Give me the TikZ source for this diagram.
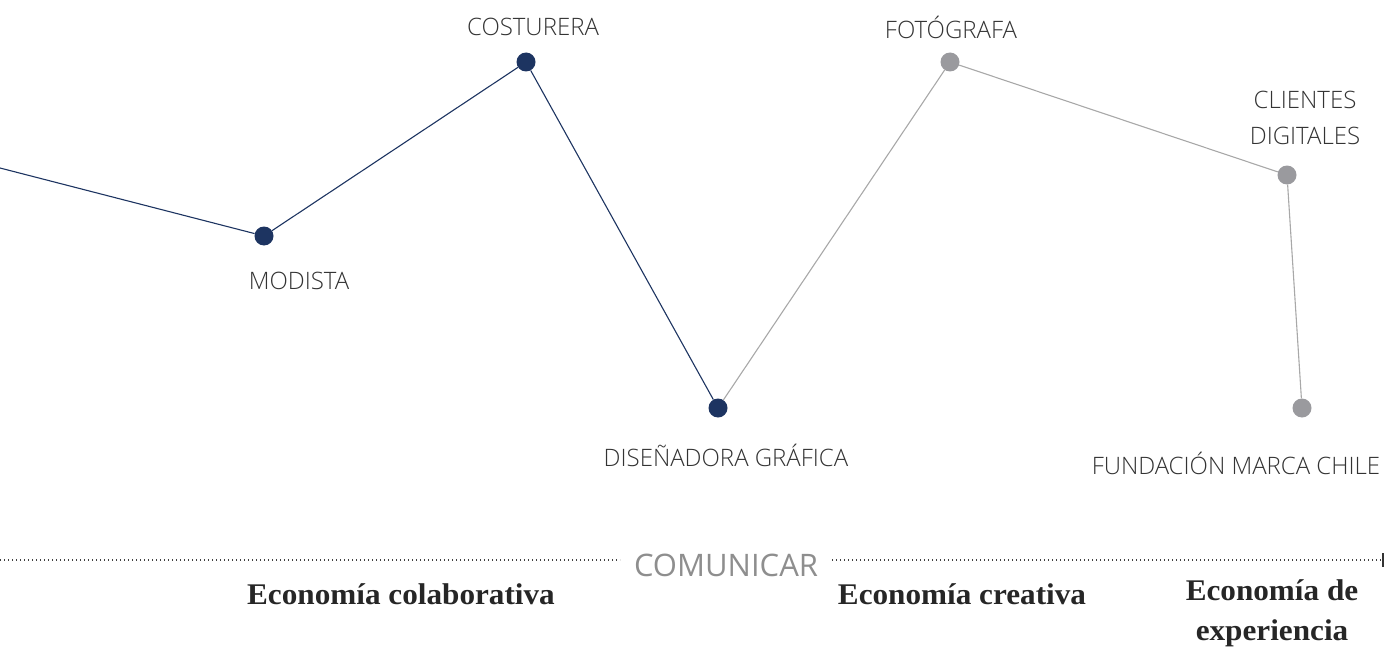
\documentclass[tikz,border=0pt]{standalone}
\usepackage{fontspec}
\setmainfont{Open Sans}
\newfontfamily\lightf{Open Sans Light}
\newfontfamily\serifb{Liberation Serif}[FakeStretch=1.04]
\definecolor{navy}{HTML}{1D3461}
\definecolor{dotgray}{HTML}{9A9A9E}
\definecolor{linegray}{HTML}{A8A8A8}
\definecolor{txt}{HTML}{333333}
\definecolor{comgray}{HTML}{8E8E8E}
\begin{document}
\begin{tikzpicture}[x=1pt,y=-1pt,
  navydot/.style={circle,fill=navy,inner sep=0pt,minimum size=19pt},
  graydot/.style={circle,fill=dotgray,inner sep=0pt,minimum size=19pt},
  lbl/.style={font=\lightf\fontsize{24}{36}\selectfont,text=txt,inner sep=0pt,align=center},
  eco/.style={font=\serifb\bfseries\fontsize{30}{40}\selectfont,text=black!85,inner sep=0pt,align=center},
  navyline/.style={draw=navy,line width=1.1pt},
  grayline/.style={draw=linegray,line width=1.1pt},
  dotline/.style={draw=black!75,line width=1.3pt,dash pattern=on 1.3pt off 2.7pt}]
\useasboundingbox (0,0) rectangle (1389,650);
\coordinate (start) at (0,168);
\node[navydot] (modista) at (264,236) {};
\node[navydot] (costurera) at (526,62) {};
\node[navydot] (disenadora) at (718,408) {};
\node[graydot] (fotografa) at (950,62) {};
\node[graydot] (clientes) at (1287,175) {};
\node[graydot] (fundacion) at (1302,408) {};

\draw[navyline] (start) -- (modista) -- (costurera) -- (disenadora);
\draw[grayline] (disenadora) -- (fotografa) -- (clientes) -- (fundacion);

\node[lbl] (lcost) at (533,27) {COSTURERA};
\node[lbl] (lmod) at (299,281) {MODISTA};
\node[lbl] (ldis) at (726,455) {DISEÑADORA GRÁFICA};
\node[lbl] (lfot) at (951,27) {FOTÓGRAFA};
\node[lbl] (lcli) at (1305,118) {CLIENTES\\DIGITALES};
\node[lbl] (lfun) at (1236,463) {FUNDACIÓN MARCA CHILE};

\node[font=\fontsize{31}{36}\selectfont,text=comgray,inner sep=0pt] (com) at (726,565) {COMUNICAR};
\coordinate (dl) at (0,560);
\coordinate (dr) at (1381,560);
\draw[dotline] (dl) -- (620,560);
\draw[dotline] (832,560) -- (dr);
\draw[black!80,line width=2pt] (1382.5,553) -- (1382.5,567);

\node[eco] (e1) at (401,594) {Economía colaborativa};
\node[eco] (e2) at (962,594) {Economía creativa};
\node[eco] (e3) at (1272,613) {Economía de\\experiencia};
\end{tikzpicture}
\end{document}
